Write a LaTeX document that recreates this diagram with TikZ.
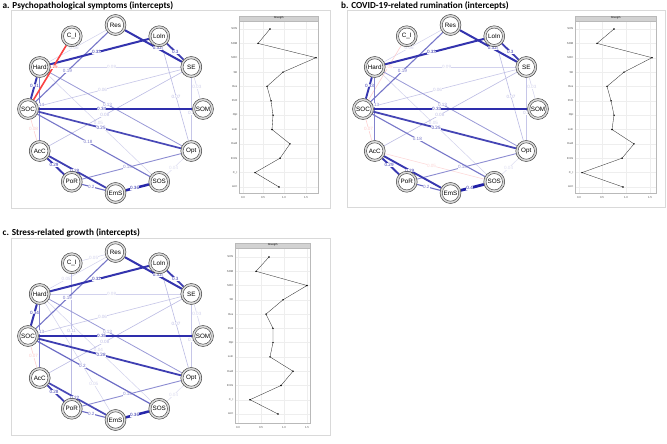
\documentclass[tikz,border=0pt]{standalone}
\usepackage{fontspec}
\setmainfont{Liberation Sans}
\newfontfamily\titlefont{Carlito}
\usetikzlibrary{backgrounds}
\definecolor{eb}{RGB}{28,28,165}
\definecolor{er}{RGB}{250,45,45}
\tikzset{
  nd/.style={circle, minimum size=21pt, inner sep=0pt, draw=black!80, line width=0.45pt, fill=gray!30,
    font=\fontsize{6.3}{7}\selectfont,
    path picture={\draw[black!80, line width=0.4pt, fill=white] (path picture bounding box.center) circle (8.2pt);}},
  elab/.style={fill=white, inner sep=0.25pt, font=\fontsize{4.6}{5}\selectfont},
  ttl/.style={anchor=west, inner sep=0pt, font=\titlefont\bfseries\fontsize{9.2}{10}\selectfont},
  frm/.style={draw=gray!30, line width=0.7pt},
  pbox/.style={draw=gray!55, line width=0.35pt},
  hbox/.style={draw=gray!55, fill=gray!35, line width=0.35pt, font=\fontsize{2.6}{3}\selectfont, inner sep=0pt},
  gridc/.style={draw=gray!13, line width=0.3pt},
  rlab/.style={anchor=east, inner sep=0pt, text=gray!60!black, font=\fontsize{2.8}{3}\selectfont},
  tlab/.style={inner sep=0pt, text=gray!60!black, font=\fontsize{2.8}{3}\selectfont},
  sline/.style={draw=black!80, line width=0.35pt},
  sdot/.style={fill=black, draw=none}
}
\newcommand\ed[6]{\draw[line width=#4pt, draw=eb!#3!white] (#1) -- node[elab, text=eb!#3!white, pos=#6]{#5} (#2);}
\newcommand\edr[6]{\draw[line width=#4pt, draw=er!#3!white] (#1) -- node[elab, text=er!#3!white, pos=#6]{#5} (#2);}
\newcommand\netnodes[3]{%
  \foreach \nm/\lab/\ang in {Res/Res/90, LoIn/LoIn/60, SE/SE/30, SOM/SOM/0, Opt/Opt/-30, SOS/SOS/-60, EmS/EmS/-90, PoR/PoR/-120, AcC/AcC/-150, SOC/SOC/180, Hard/Hard/150, CI/C\_I/120}
    {\node[nd] (#1\nm) at ({#2+87.5*cos(\ang)},{#3-84*sin(\ang)}) {\lab};}}
\newcommand\splot[9]{%
  \node[hbox, minimum width={(#3-#2)*1pt}, minimum height={(#5-#4)*1pt}, anchor=south west] (#1hdr) at (#2,#5) {Strength};
  \foreach \t/\tl [count=\k from 0] in {#9} {
    \draw[gridc] (\t,#5) -- (\t,#6);
    \node[tlab] (#1tk\k) at (\t,#6+5) {\tl};
  }
  \foreach \lab [count=\i from 0] in {SOS,SOM,SOC,SE,Res,PoR,Opt,LoIn,Hard,EmS,C\_I,AcC} {
    \draw[gridc] (#2,#7+\i*#8) -- (#3,#7+\i*#8);
    \node[rlab] (#1rl\i) at (#2-1.5,#7+\i*#8) {\lab};
  }
  \draw[pbox] (#2,#5) rectangle (#3,#6);
}
\begin{document}
\begin{tikzpicture}[x=1pt,y=-1pt]
\useasboundingbox (0,0) rectangle (667,444);
\begin{pgfonlayer}{background}
\fill[white] (0,0) rectangle (667,444);
\end{pgfonlayer}
\node[ttl] (ta) at (2.5,5.5) {a. Psychopathological symptoms (intercepts)};
\node[ttl] (tb) at (341,5.5) {b. COVID-19-related rumination (intercepts)};
\node[ttl] (tc) at (2.5,233) {c. Stress-related growth (intercepts)};
\draw[frm] (11,10.5) rectangle (330,208);
\draw[frm] (347,10.5) rectangle (665,207);
\draw[frm] (11,238.5) rectangle (330,435);
\netnodes{a}{115.5}{109}
\netnodes{b}{450.5}{109}
\netnodes{c}{115.5}{336}
\begin{pgfonlayer}{background}
\ed{aSOS}{aOpt}{15}{0.5}{0.04}{.4}
\ed{aSE}{aSOM}{20}{0.5}{0.03}{.45}
\ed{aHard}{aRes}{20}{0.5}{0.06}{.44}
\ed{aHard}{aSOS}{20}{0.5}{0.05}{.49}
\ed{aHard}{aSE}{20}{0.6}{0.08}{.47}
\ed{aSE}{aOpt}{25}{0.5}{0.1}{.56}
\ed{aSOC}{aSE}{25}{0.6}{0.06}{.45}
\ed{aAcC}{aSE}{30}{0.6}{0.08}{.42}
\ed{aLoIn}{aOpt}{30}{0.6}{0.07}{.53}
\edr{aSOC}{aAcC}{25}{0.5}{0.08}{.45}
\ed{aHard}{aOpt}{45}{0.8}{0.13}{.44}
\ed{aPoR}{aOpt}{50}{0.9}{0.15}{.46}
\ed{aHard}{aAcC}{55}{0.9}{0.14}{.44}
\ed{aSOC}{aSOS}{60}{1.1}{0.18}{.45}
\ed{aSOC}{aRes}{60}{1.1}{0.19}{.44}
\ed{aPoR}{aEmS}{65}{1.1}{0.2}{.4}
\ed{aSOC}{aOpt}{80}{1.7}{0.25}{.44}
\ed{aAcC}{aEmS}{85}{1.8}{0.28}{.45}
\ed{aLoIn}{aSE}{85}{1.8}{0.3}{.5}
\ed{aHard}{aSOC}{88}{1.9}{0.31}{.38}
\ed{aAcC}{aPoR}{88}{1.9}{0.29}{.4}
\ed{aRes}{aSE}{90}{2.0}{0.32}{.57}
\ed{aHard}{aLoIn}{90}{2.0}{0.33}{.47}
\ed{aSOC}{aSOM}{92}{2.2}{0.34}{.41}
\ed{aEmS}{aSOS}{95}{2.5}{0.36}{.38}
\edr{aCI}{aSOC}{90}{1.6}{0.25}{.4}
\ed{bSOS}{bOpt}{15}{0.5}{0.04}{.4}
\ed{bSE}{bSOM}{20}{0.5}{0.03}{.45}
\ed{bHard}{bRes}{20}{0.5}{0.06}{.44}
\ed{bHard}{bSOS}{20}{0.5}{0.05}{.49}
\ed{bHard}{bSE}{20}{0.6}{0.09}{.47}
\ed{bSE}{bOpt}{25}{0.5}{0.1}{.56}
\ed{bSOC}{bSE}{25}{0.6}{0.06}{.45}
\ed{bAcC}{bSE}{30}{0.6}{0.08}{.42}
\ed{bLoIn}{bOpt}{30}{0.6}{0.07}{.53}
\edr{bCI}{bSOC}{25}{0.5}{0.05}{.4}
\edr{bSOC}{bAcC}{25}{0.5}{0.07}{.45}
\edr{bAcC}{bSOS}{20}{0.5}{0.05}{.47}
\ed{bHard}{bOpt}{45}{0.8}{0.13}{.44}
\ed{bPoR}{bOpt}{50}{0.9}{0.15}{.46}
\ed{bHard}{bAcC}{55}{0.9}{0.13}{.44}
\ed{bSOC}{bSOS}{60}{1.1}{0.18}{.4}
\ed{bSOC}{bRes}{60}{1.1}{0.19}{.44}
\ed{bPoR}{bEmS}{65}{1.1}{0.2}{.4}
\ed{bSOC}{bOpt}{82}{1.8}{0.25}{.44}
\ed{bAcC}{bEmS}{88}{1.9}{0.29}{.45}
\ed{bLoIn}{bSE}{85}{1.8}{0.3}{.5}
\ed{bHard}{bSOC}{88}{1.9}{0.33}{.38}
\ed{bAcC}{bPoR}{88}{1.9}{0.29}{.4}
\ed{bRes}{bSE}{90}{2.0}{0.32}{.57}
\ed{bHard}{bLoIn}{90}{2.0}{0.33}{.47}
\ed{bSOC}{bSOM}{92}{2.2}{0.33}{.41}
\ed{bEmS}{bSOS}{98}{2.8}{0.4}{.38}
\ed{cSOS}{cOpt}{15}{0.5}{0.04}{.4}
\ed{cSE}{cSOM}{20}{0.5}{0.03}{.45}
\ed{cHard}{cRes}{20}{0.5}{0.05}{.3}
\ed{cCI}{cRes}{20}{0.5}{0.05}{.5}
\ed{cHard}{cSOS}{20}{0.5}{0.04}{.49}
\ed{cHard}{cEmS}{20}{0.5}{0.05}{.75}
\ed{cHard}{cSE}{20}{0.6}{0.08}{.47}
\ed{cSE}{cOpt}{25}{0.5}{0.1}{.56}
\ed{cSOC}{cSE}{25}{0.6}{0.06}{.45}
\ed{cAcC}{cSE}{30}{0.6}{0.08}{.42}
\ed{cLoIn}{cOpt}{30}{0.6}{0.07}{.53}
\ed{cCI}{cPoR}{30}{0.6}{0.11}{.46}
\edr{cSOC}{cAcC}{25}{0.5}{0.07}{.45}
\ed{cHard}{cOpt}{45}{0.8}{0.13}{.44}
\ed{cPoR}{cOpt}{50}{0.9}{0.15}{.46}
\ed{cHard}{cAcC}{55}{0.9}{0.13}{.44}
\ed{cSOC}{cSOS}{65}{1.2}{0.2}{.4}
\ed{cSOC}{cRes}{60}{1.1}{0.19}{.44}
\ed{cPoR}{cEmS}{65}{1.1}{0.2}{.4}
\ed{cAcC}{cEmS}{80}{1.7}{0.22}{.45}
\ed{cSOC}{cOpt}{85}{1.8}{0.28}{.44}
\ed{cLoIn}{cSE}{85}{1.8}{0.3}{.5}
\ed{cAcC}{cPoR}{85}{1.8}{0.28}{.4}
\ed{cHard}{cSOC}{90}{2.0}{0.34}{.38}
\ed{cRes}{cSE}{90}{2.0}{0.32}{.57}
\ed{cHard}{cLoIn}{90}{2.0}{0.32}{.47}
\ed{cSOC}{cSOM}{92}{2.2}{0.35}{.41}
\ed{cEmS}{cSOS}{95}{2.5}{0.36}{.38}
\end{pgfonlayer}
\splot{a}{239}{318}{16}{21}{193}{29}{14.36}{243/0.0,263/0.5,284/1.0,306/1.5}
\draw[sline] plot coordinates {(270,29) (258,43.4) (316,57.7) (283,72.1) (267,86.4) (271,100.8) (273,115.2) (272,129.5) (290,143.9) (280,158.2) (255,172.6) (279,187)};
\foreach \px/\py in {270/29, 258/43.4, 316/57.7, 283/72.1, 267/86.4, 271/100.8, 273/115.2, 272/129.5, 290/143.9, 280/158.2, 255/172.6, 279/187} \fill[sdot] (\px,\py) circle (0.8pt);
\splot{b}{575}{656}{16}{21}{193}{29}{14.36}{579/0.0,602/0.5,626/1.0,650/1.5}
\draw[sline] plot coordinates {(614,29) (597,43.4) (652,57.7) (624,72.1) (607,86.4) (611,100.8) (614,115.2) (612,129.5) (634,143.9) (622,158.2) (582,172.6) (623,187)};
\foreach \px/\py in {614/29, 597/43.4, 652/57.7, 624/72.1, 607/86.4, 611/100.8, 614/115.2, 612/129.5, 634/143.9, 622/158.2, 582/172.6, 623/187} \fill[sdot] (\px,\py) circle (0.8pt);
\splot{c}{235}{310}{243}{248}{423}{257}{14.27}{238/0.0,261/0.5,284/1.0,307/1.5}
\draw[sline] plot coordinates {(269,257) (256,271.3) (307,285.5) (283,299.8) (266,314.1) (273,328.4) (273,342.6) (270,356.9) (293,371.2) (281,385.5) (250,399.7) (278,414)};
\foreach \px/\py in {269/257, 256/271.3, 307/285.5, 283/299.8, 266/314.1, 273/328.4, 273/342.6, 270/356.9, 293/371.2, 281/385.5, 250/399.7, 278/414} \fill[sdot] (\px,\py) circle (0.8pt);
\end{tikzpicture}
\end{document}
